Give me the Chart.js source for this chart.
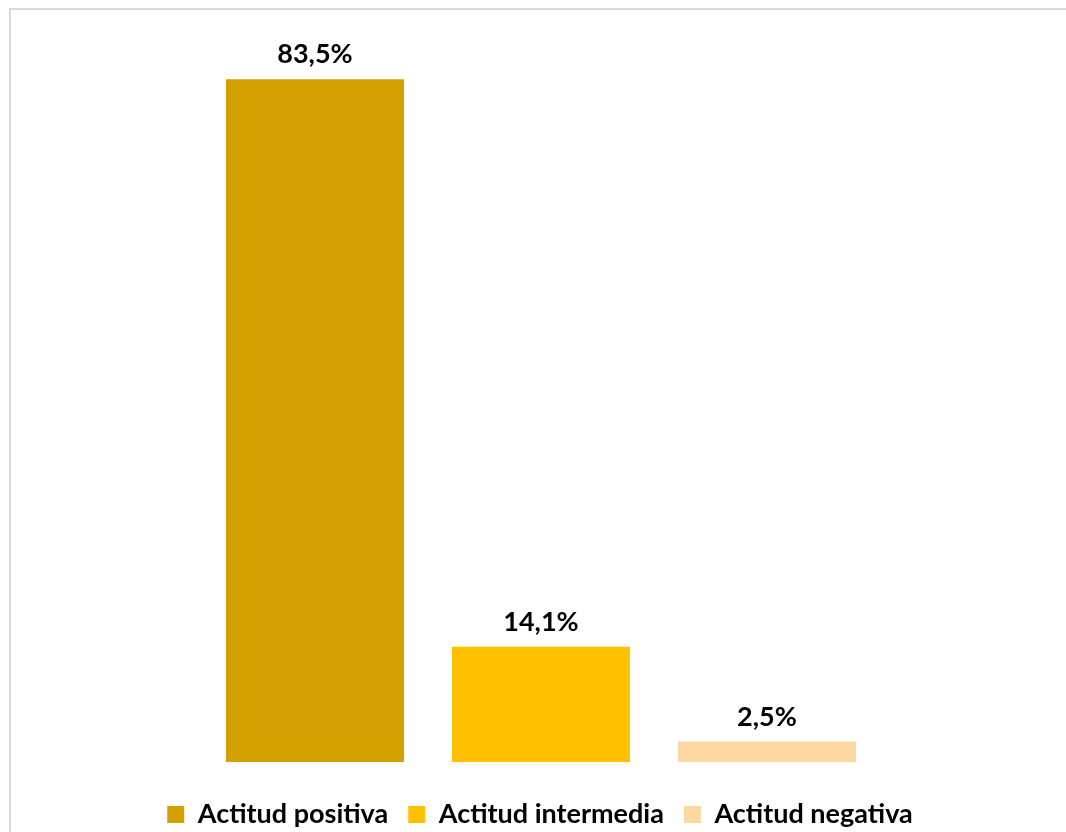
<!DOCTYPE html>
<html>
<head>
<meta charset="utf-8">
<script src="https://cdn.jsdelivr.net/npm/chart.js@4.4.0/dist/chart.umd.min.js"></script>
<style>
  html, body { margin: 0; padding: 0; background: #fff; }
  #wrap { width: 1066px; height: 832px; position: relative; }
</style>
</head>
<body>
<div id="wrap"><canvas id="actitudChart"></canvas></div>
<script>
const categories = ['Actitud positiva', 'Actitud intermedia', 'Actitud negativa'];
const percentages = [83.5, 14.1, 2.5];
const barColors = ['#D4A000', '#FFC000', '#FDD7A1'];

const fmt = v => v.toFixed(1).replace('.', ',') + '%';

// Light grey frame like the exported chart box
const framePlugin = {
    id: 'frame',
    beforeDraw(chart) {
        const ctx = chart.ctx;
        ctx.save();
        ctx.strokeStyle = '#D9D9D9';
        ctx.lineWidth = 2;
        ctx.strokeRect(10, 9, 1100, 900);
        ctx.restore();
    }
};

// Value labels above each bar
const valueLabels = {
    id: 'valueLabels',
    afterDatasetsDraw(chart) {
        const ctx = chart.ctx;
        const meta = chart.getDatasetMeta(0);
        ctx.save();
        ctx.font = 'bold 27px Lato';
        ctx.fillStyle = '#000';
        ctx.textAlign = 'center';
        ctx.textBaseline = 'bottom';
        meta.data.forEach((bar, i) => {
            ctx.fillText(fmt(percentages[i]), bar.x, bar.y - 11);
        });
        ctx.restore();
    }
};

// hidden axes used only as spacers
const spacer = w => ({
    display: true,
    ticks: { display: false },
    grid: { display: false },
    border: { display: false },
    afterFit: scale => { if (scale.isHorizontal()) scale.height = w; else scale.width = w; }
});

const ctx = document.getElementById('actitudChart').getContext('2d');
new Chart(ctx, {
    type: 'bar',
    data: {
        labels: categories,
        datasets: [{
            data: percentages,
            backgroundColor: barColors,
            borderWidth: 0,
            barPercentage: 0.788,
            categoryPercentage: 1
        }]
    },
    options: {
        responsive: true,
        maintainAspectRatio: false,
        animation: false,
        layout: { padding: { left: 14, right: 0, top: 26, bottom: -6 } },
        scales: {
            x: spacer(19),
            y: { ...spacer(188), min: 0, max: 90 },
            yRight: { ...spacer(186), position: 'right' }
        },
        plugins: {
            tooltip: { enabled: false },
            legend: {
                position: 'bottom',
                labels: {
                    color: '#000',
                    font: { family: 'Lato', size: 27, weight: 'bold' },
                    boxWidth: 17,
                    boxHeight: 17,
                    padding: 20,
                    generateLabels: () => categories.map((c, i) => ({
                        text: c,
                        fillStyle: barColors[i],
                        strokeStyle: barColors[i],
                        lineWidth: 0,
                        hidden: false,
                        index: i
                    }))
                }
            }
        }
    },
    plugins: [framePlugin, valueLabels]
});
</script>
</body>
</html>
